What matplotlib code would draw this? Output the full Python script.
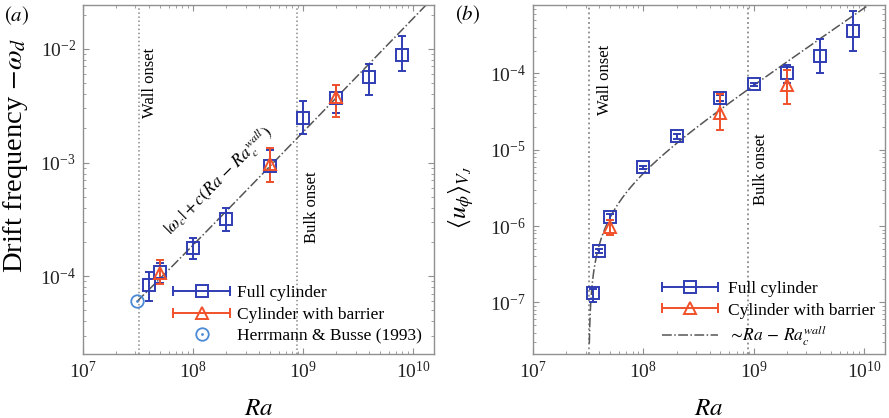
import numpy as np
import matplotlib
matplotlib.use('Agg')
import matplotlib.pyplot as plt
from matplotlib.lines import Line2D
from matplotlib.legend_handler import HandlerLine2D, HandlerTuple
from matplotlib.ticker import LogLocator, NullFormatter

plt.rcParams['font.family'] = ['Liberation Serif', 'DejaVu Serif']
plt.rcParams['mathtext.fontset'] = 'stix'

# ---------------- data panel (a) ----------------
ra_full_a = [4e7, 5e7, 1e8, 2e8, 5e8, 1e9, 2e9, 4e9, 8e9]
drift_full = [8.3e-5, 1.08e-4, 1.76e-4, 3.16e-4, 9.4e-4, 2.48e-3, 3.7e-3, 5.6e-3, 8.9e-3]
drift_full_lo = [6.0e-5, 8.8e-5, 1.41e-4, 2.5e-4, 6.8e-4, 1.8e-3, 2.7e-3, 3.9e-3, 6.4e-3]
drift_full_hi = [1.1e-4, 1.3e-4, 2.15e-4, 4.0e-4, 1.3e-3, 3.5e-3, 4.8e-3, 7.3e-3, 1.29e-2]
ra_bar_a = [5e7, 5e8, 2e9]
drift_bar = [1.06e-4, 9.7e-4, 3.8e-3]
drift_bar_lo = [8.5e-5, 6.7e-4, 2.5e-3]
drift_bar_hi = [1.4e-4, 1.35e-3, 4.8e-3]
ra_hb = [3.1e7]
drift_hb = [6.0e-5]

# fit parameters panel (a)
omega_c = 6.0e-5
c_fit = 1.85e-12
ra_c_wall_a = 3.1e7

# ---------------- data panel (b) ----------------
ra_full_b = [3.5e7, 4e7, 5e7, 1e8, 2e8, 5e8, 1e9, 2e9, 4e9, 8e9]
u_full = [1.31e-7, 4.7e-7, 1.31e-6, 5.9e-6, 1.5e-5, 4.8e-5, 7.2e-5, 1.0e-4, 1.7e-4, 3.6e-4]
u_full_lo = [1.0e-7, 4.4e-7, 1.2e-6, 5.6e-6, 1.4e-5, 4.3e-5, 6.8e-5, 7.5e-5, 1.0e-4, 2.0e-4]
u_full_hi = [1.5e-7, 5.0e-7, 1.45e-6, 6.2e-6, 1.6e-5, 5.2e-5, 7.6e-5, 1.31e-4, 2.8e-4, 6.5e-4]
ra_bar_b = [5e7, 5e8, 2e9]
u_bar = [9.7e-7, 3.0e-5, 7.0e-5]
u_bar_lo = [7.6e-7, 1.8e-5, 4.0e-5]
u_bar_hi = [1.2e-6, 5.4e-5, 1.1e-4]

# fit parameters panel (b)
k_fit = 7.2e-14
ra_c_wall_b = 3.2e7

# onsets
ra_wall_onset = 3.2e7
ra_bulk_onset = 8.8e8

BLUE = '#2f3db3'
RED = '#f0512a'
LBLUE = '#4a8ad6'
GRAY = '#8a8a8a'
FITC = '#555555'

fig = plt.figure(figsize=(8.89, 4.18), dpi=100)
ax1 = fig.add_axes([83/889, 1-354/418, 351/889, 349/418])
ax2 = fig.add_axes([533/889, 1-354/418, 352/889, 349/418])


def style_axes(ax):
    ax.set_xscale('log')
    ax.set_yscale('log')
    for s in ax.spines.values():
        s.set_color('#909090')
        s.set_linewidth(1.0)
    ax.tick_params(which='both', direction='in', top=True, right=True, colors='#909090',
                   labelcolor='#222222', labelsize=14)
    ax.tick_params(which='major', length=4.5, width=0.8, pad=5)
    ax.tick_params(which='minor', length=2.5, width=0.6)
    ax.xaxis.set_major_locator(LogLocator(base=10, numticks=20))
    ax.xaxis.set_minor_locator(LogLocator(base=10, subs=np.arange(2, 10), numticks=20))
    ax.yaxis.set_major_locator(LogLocator(base=10, numticks=20))
    ax.yaxis.set_minor_locator(LogLocator(base=10, subs=np.arange(2, 10), numticks=20))
    ax.yaxis.set_minor_formatter(NullFormatter())
    ax.xaxis.set_minor_formatter(NullFormatter())
    ax.set_xlim(1e7, 1.55e10)


def errb(ax, x, y, lo, hi, color, marker, ms):
    y = np.array(y); lo = np.array(lo); hi = np.array(hi)
    ax.errorbar(x, y, yerr=[y - lo, hi - y], fmt=marker, color=color, mfc='none',
                mec=color, ms=ms, mew=1.4, elinewidth=1.4, capsize=3, capthick=1.4,
                zorder=4)


# ---------------- panel (a) ----------------
style_axes(ax1)
ax1.set_ylim(2.07e-5, 2.43e-2)
ax1.axvline(ra_wall_onset, color=GRAY, ls=':', lw=1.1, zorder=1)
ax1.axvline(ra_bulk_onset, color=GRAY, ls=':', lw=1.1, zorder=1)
ra_line_a = np.logspace(np.log10(ra_hb[0]), np.log10(1.55e10), 400)
ax1.plot(ra_line_a, omega_c + c_fit * (ra_line_a - ra_c_wall_a), color=FITC, ls='-.', lw=1.1, zorder=2)
errb(ax1, ra_full_a, drift_full, drift_full_lo, drift_full_hi, BLUE, 's', 8)
errb(ax1, ra_bar_a, drift_bar, drift_bar_lo, drift_bar_hi, RED, '^', 8)
ax1.plot(ra_hb, drift_hb, 'o', mfc='none', mec=LBLUE, ms=9, mew=1.3, zorder=5)
ax1.plot(ra_hb, drift_hb, '.', color=LBLUE, ms=2, zorder=5)
ax1.set_xlabel(r'$Ra$', fontsize=18)
ax1.set_ylabel(r'Drift frequency $-\omega_d$', fontsize=20.5)
ax1.yaxis.set_label_coords(-0.152, 0.57)
ax1.xaxis.set_label_coords(0.5, -0.125)
ax1.text(4.07e7, 5.0e-3, 'Wall onset', rotation=90, ha='center', va='center', fontsize=12)
ax1.text(1.21e9, 4.03e-4, 'Bulk onset', rotation=90, ha='center', va='center', fontsize=12)
ax1.text(1.72e8, 6.9e-4, r'$|\omega_c| + c(Ra\,-\,Ra_c^{wall})$', rotation=45,
         rotation_mode='anchor', ha='center', va='center', fontsize=12.5)
fig.text(17/889, 1-16/418, r'$(a)$', fontsize=15, ha='center', va='center')

# legend (a)
hf_line = Line2D([], [], color=BLUE, marker='s', mfc='none', mec=BLUE, ms=8, mew=1.4, lw=1.4)
hf_caps = Line2D([], [], color=BLUE, marker='|', ms=7, mew=1.4, lw=0)
hb_line = Line2D([], [], color=RED, marker='^', mfc='none', mec=RED, ms=8, mew=1.4, lw=1.4)
hb_caps = Line2D([], [], color=RED, marker='|', ms=7, mew=1.4, lw=0)
hh = Line2D([], [], color=LBLUE, marker='o', mfc='none', mec=LBLUE, ms=9, mew=1.3, lw=0)
hh_dot = Line2D([], [], color=LBLUE, marker='.', ms=2, lw=0)
hmap = {hf_caps: HandlerLine2D(numpoints=2, marker_pad=0),
        hb_caps: HandlerLine2D(numpoints=2, marker_pad=0),
        tuple: HandlerTuple(ndivide=1)}
leg1 = ax1.legend([(hf_line, hf_caps), (hb_line, hb_caps), (hh, hh_dot)],
                  ['Full cylinder', 'Cylinder with barrier', 'Herrmann & Busse (1993)'],
                  handler_map=hmap, loc='center left',
                  bbox_to_anchor=(173/889, 1-314.5/418), bbox_transform=fig.transFigure,
                  frameon=False, fontsize=12.5, handlelength=3.3, handletextpad=0.4,
                  labelspacing=0.3, borderpad=0, borderaxespad=0, numpoints=1)

# ---------------- panel (b) ----------------
style_axes(ax2)
ax2.set_ylim(2.1e-8, 7.9e-4)
ax2.axvline(ra_wall_onset, color=GRAY, ls=':', lw=1.3, zorder=1)
ax2.axvline(ra_bulk_onset, color=GRAY, ls=':', lw=1.3, zorder=1)
ra_line_b = ra_c_wall_b + np.logspace(np.log10(4.0e5), np.log10(1.55e10), 600)
ax2.plot(ra_line_b, k_fit * (ra_line_b - ra_c_wall_b), color=FITC, ls='-.', lw=1.1, zorder=2)
errb(ax2, ra_full_b, u_full, u_full_lo, u_full_hi, BLUE, 's', 8)
errb(ax2, ra_bar_b, u_bar, u_bar_lo, u_bar_hi, RED, '^', 8)
ax2.set_xlabel(r'$Ra$', fontsize=18)
ax2.set_ylabel(r'$\langle u_\phi \rangle_{V_J}$', fontsize=18)
ax2.yaxis.set_label_coords(-0.163, 0.45)
ax2.xaxis.set_label_coords(0.5, -0.125)
ax2.text(4.47e7, 8.3e-5, 'Wall onset', rotation=90, ha='center', va='center', fontsize=12)
ax2.text(1.17e9, 5.6e-6, 'Bulk onset', rotation=90, ha='center', va='center', fontsize=12)
fig.text(468/889, 1-15/418, r'$(b)$', fontsize=15, ha='center', va='center')

hfit = Line2D([], [], color=FITC, ls='-.', lw=1.1)
leg2 = ax2.legend([(hf_line, hf_caps), (hb_line, hb_caps), hfit],
                  ['Full cylinder', 'Cylinder with barrier', r'$\sim\!Ra\,-\,Ra_c^{wall}$'],
                  handler_map=hmap, loc='center left',
                  bbox_to_anchor=(662/889, 1-314.5/418), bbox_transform=fig.transFigure,
                  frameon=False, fontsize=12.5, handlelength=3.2, handletextpad=0.6,
                  labelspacing=0.3, borderpad=0, borderaxespad=0, numpoints=1)

fig.savefig('out.png', dpi=100)
